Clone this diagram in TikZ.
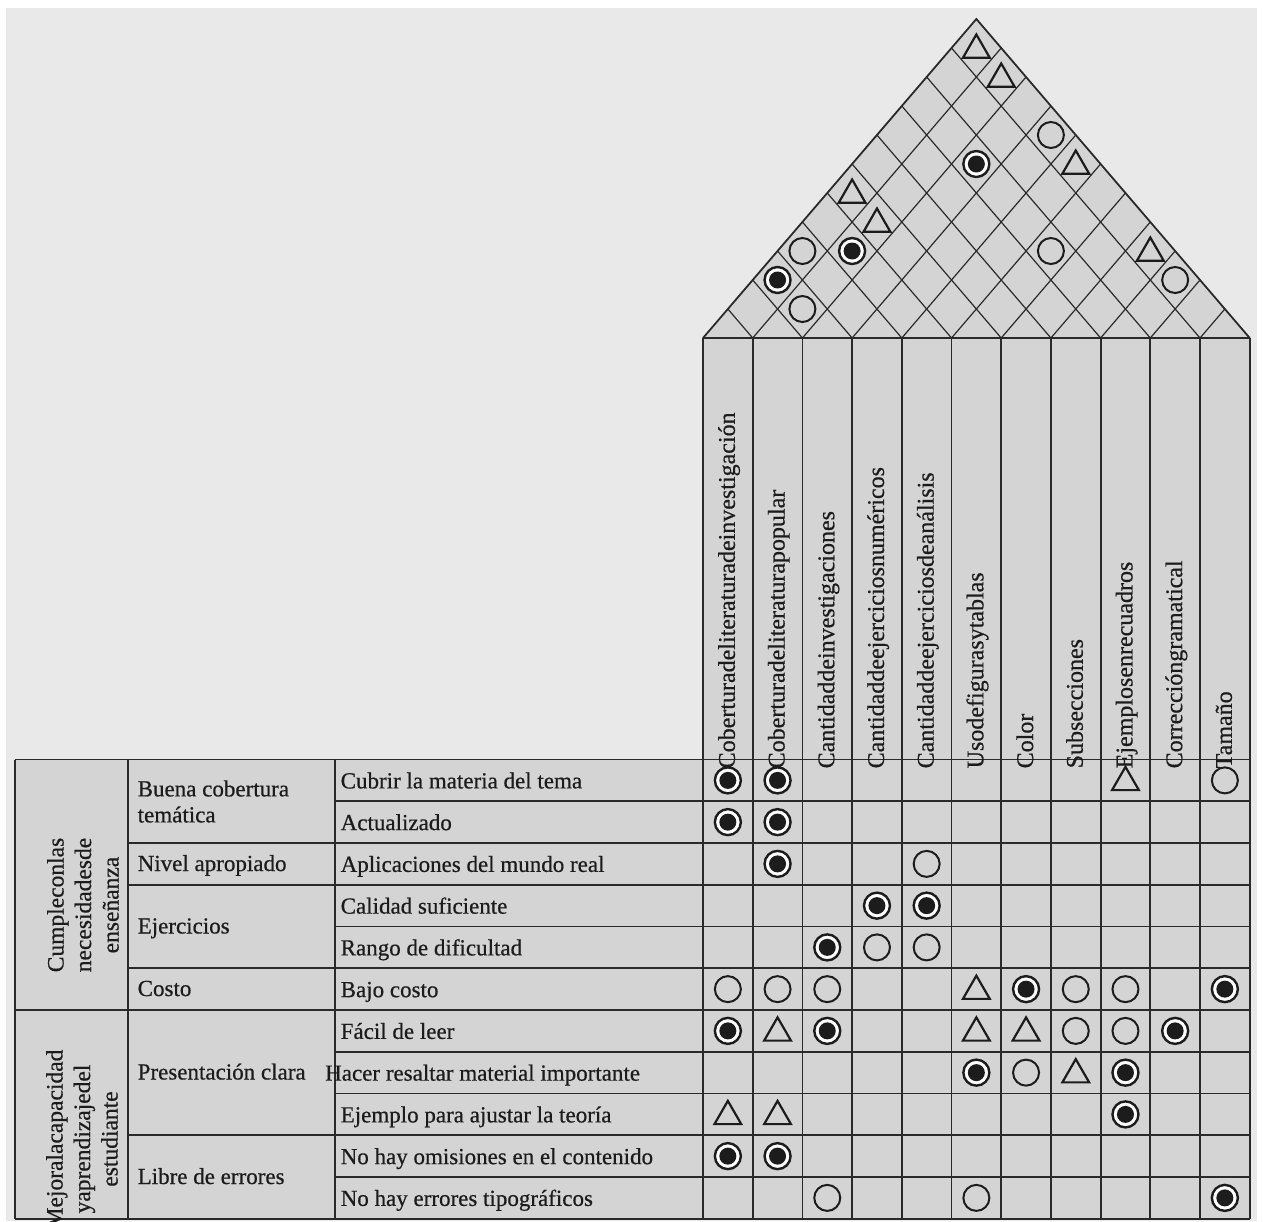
\documentclass[tikz,border=0pt]{standalone}
\usepackage{fontspec}
\setmainfont{Liberation Serif}[FakeBold=0.6]
\usetikzlibrary{shapes.geometric}

\definecolor{pagebg}{HTML}{E9E9E9}
\definecolor{cellbg}{HTML}{D4D4D4}
\definecolor{rule}{HTML}{2A2A2A}
\definecolor{ink}{HTML}{1C1C1C}

\begin{document}
\begin{tikzpicture}[x=1pt,y=-1pt,
  grid/.style={draw=rule, line width=1.8pt},
  lattice/.style={draw=rule, line width=1.2pt},
  txt/.style={font=\fontsize{23}{26}\selectfont, inner sep=0pt, text=ink},
  hdr/.style={txt, rotate=90, anchor=base west, font=\fontsize{24}{26}\selectfont},
  grp/.style={txt, rotate=90, align=center, font=\fontsize{23.5}{27.5}\selectfont},
  strong/.style={circle, draw=ink, line width=2.4pt, fill=white, minimum size=26pt,
    inner sep=0pt, outer sep=0pt,
    path picture={\fill[ink] (path picture bounding box.center) circle (8.5pt);}},
  medium/.style={circle, draw=ink, line width=2pt, minimum size=26pt, inner sep=0pt, outer sep=0pt},
  weak/.style={regular polygon, regular polygon sides=3, draw=ink, line width=2.2pt,
    minimum size=31pt, inner sep=0pt, outer sep=0pt, yshift=-2pt},
]
% page and background
\useasboundingbox (0,0) rectangle (1263,1221);
\clip (0,0) rectangle (1263,1221);
\fill[white] (0,0) rectangle (1263,1221);
\fill[pagebg] (6,8) rectangle (1257,1221);

% filled areas: roof, column block, left table
\fill[cellbg] (703,338) -- (976.35,19) -- (1249.7,338) -- cycle;
\fill[cellbg] (703,338) rectangle (1249.7,1218.75);
\fill[cellbg] (15,759.5) rectangle (703,1218.75);

% roof lattice
\foreach \i in {1,...,10} {
  \pgfmathsetmacro\xa{703+49.7*\i}
  \pgfmathsetmacro\xr{(\xa+1249.7)/2}
  \pgfmathsetmacro\yr{338-1.167*(1249.7-\xa)/2}
  \pgfmathsetmacro\xl{(703+\xa)/2}
  \pgfmathsetmacro\yl{338-1.167*(\xa-703)/2}
  \draw[lattice] (\xl,\yl) -- (\xa,338) -- (\xr,\yr);
}
\draw[grid] (703,338) -- (976.35,19) -- (1249.7,338);
\draw[grid] (703,338) -- (1249.7,338);

% column lines
\foreach \i in {0,...,11}
  \draw[grid] ({703+49.7*\i},338) -- ({703+49.7*\i},1218.75);

% table rules
\draw[grid] (15,759.5) -- (1249.7,759.5);
\foreach \r in {1,4,7,8,10}
  \draw[grid] (335,{759.5+41.75*\r}) -- (1249.7,{759.5+41.75*\r});
\foreach \r in {2,3,5,9}
  \draw[grid] (128,{759.5+41.75*\r}) -- (1249.7,{759.5+41.75*\r});
\foreach \r in {6,11}
  \draw[grid] (15,{759.5+41.75*\r}) -- (1249.7,{759.5+41.75*\r});
\foreach \x in {15,128,335}
  \draw[grid] (\x,759.5) -- (\x,1218.75);

% column headers
\foreach \i/\t in {0/Coberturadeliteraturadeinvestigación,
                   1/Coberturadeliteraturapopular,
                   2/Cantidaddeinvestigaciones,
                   3/Cantidaddeejerciciosnuméricos,
                   4/Cantidaddeejerciciosdeanálisis,
                   5/Usodefigurasytablas,
                   6/Color,
                   7/Subsecciones,
                   8/Ejemplosenrecuadros,
                   9/Correccióngramatical,
                   10/Tamaño}
  \node[hdr] (h\i) at ({703+49.7*(\i+0.5)+7},768.5) {\t};

% group labels
\node[grp] (grp1) at (83,905) {Cumpleconlas\\necesidadesde\\enseñanza};
\node[grp] (grp2) at (82,1139) {Mejoralacapacidad\\yaprendizajedel\\estudiante};

% category labels
\node[txt, anchor=west, align=left] (cat1) at (137.5,801.5) {Buena cobertura\\temática};
\node[txt, anchor=base west] (cat2) at (137.5,871) {Nivel apropiado};
\node[txt, anchor=base west] (cat3) at (137.5,933.5) {Ejercicios};
\node[txt, anchor=base west] (cat4) at (137.5,996) {Costo};
\node[txt, anchor=base west] (cat5) at (137.5,1079.5) {Presentación clara};
\node[txt, anchor=base west] (cat6) at (137.5,1184) {Libre de errores};

% requirement rows
\foreach \r/\x/\t in {0/340.5/Cubrir la materia del tema,
                      1/340.5/Actualizado,
                      2/340.5/Aplicaciones del mundo real,
                      3/340.5/Calidad suficiente,
                      4/340.5/Rango de dificultad,
                      5/340.5/Bajo costo,
                      6/340.5/Fácil de leer,
                      7/325/Hacer resaltar material importante,
                      8/340.5/Ejemplo para ajustar la teoría,
                      9/340.5/No hay omisiones en el contenido,
                      10/340.5/No hay errores tipográficos}
  \node[txt, anchor=base west] (it\r) at (\x,{759.5+41.75*(\r+0.5)+8}) {\t};

% relationship matrix
\foreach \r/\c/\s in {0/0/strong, 0/1/strong, 0/8/weak, 0/10/medium,
                      1/0/strong, 1/1/strong,
                      2/1/strong, 2/4/medium,
                      3/3/strong, 3/4/strong,
                      4/2/strong, 4/3/medium, 4/4/medium,
                      5/0/medium, 5/1/medium, 5/2/medium, 5/5/weak, 5/6/strong,
                      5/7/medium, 5/8/medium, 5/10/strong,
                      6/0/strong, 6/1/weak, 6/2/strong, 6/5/weak, 6/6/weak,
                      6/7/medium, 6/8/medium, 6/9/strong,
                      7/5/strong, 7/6/medium, 7/7/weak, 7/8/strong,
                      8/0/weak, 8/1/weak, 8/8/strong,
                      9/0/strong, 9/1/strong,
                      10/2/medium, 10/5/medium, 10/10/strong}
  \node[\s] (m\r-\c) at ({703+49.7*(\c+0.5)},{759.5+41.75*(\r+0.5)}) {};

% correlation roof
\foreach \a/\b/\s in {0/10/weak, 1/10/weak, 3/10/medium, 4/10/weak, 2/8/strong,
                      0/5/weak, 1/5/weak, 0/3/medium, 1/4/strong, 5/8/medium,
                      7/10/weak, 8/10/medium, 0/2/strong, 1/2/medium}
  \node[\s] (r\a-\b) at ({703+49.7*(\a+\b+1)/2},{338-29.0*(\b-\a)}) {};
\end{tikzpicture}
\end{document}
